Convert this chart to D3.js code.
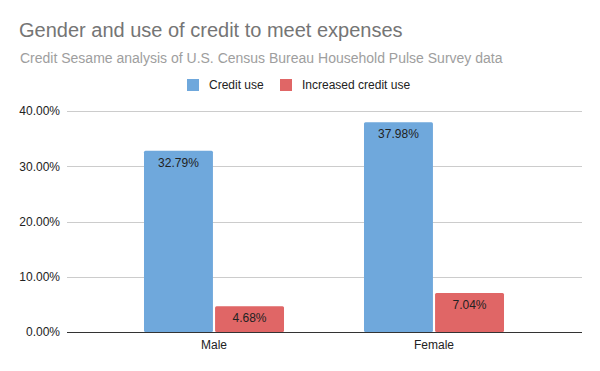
<!DOCTYPE html>
<html>
<head>
<meta charset="utf-8">
<script src="https://d3js.org/d3.v7.min.js"></script>
<style>
  body { margin: 0; background: #fff; }
  svg { font-family: Arial, "Liberation Sans", sans-serif; }
</style>
</head>
<body>
<div id="chart"></div>
<script>
const categories = ["Male", "Female"];
const seriesNames = ["Credit use", "Increased credit use"];
const creditUse = [0.3279, 0.3798];
const increasedCreditUse = [0.0468, 0.0704];
const yTicks = [0, 0.1, 0.2, 0.3, 0.4];
const colors = ["#6fa8dc", "#e06666"];

const width = 600, height = 371;

const svg = d3.select("#chart")
  .append("svg")
  .attr("width", width)
  .attr("height", height);

svg.append("rect").attr("width", width).attr("height", height).attr("fill", "#fff");

// title + subtitle
svg.append("text")
  .attr("x", 19).attr("y", 37)
  .attr("font-size", 20)
  .attr("fill", "#757575")
  .text("Gender and use of credit to meet expenses");

svg.append("text")
  .attr("x", 20).attr("y", 63)
  .attr("font-size", 14)
  .attr("fill", "#9e9e9e")
  .text("Credit Sesame analysis of U.S. Census Bureau Household Pulse Survey data");

// legend
const legendX = [187, 280];
seriesNames.forEach((name, i) => {
  svg.append("rect")
    .attr("x", legendX[i]).attr("y", 79)
    .attr("width", 12).attr("height", 12)
    .attr("fill", colors[i]);
  svg.append("text")
    .attr("x", legendX[i] + 22).attr("y", 89)
    .attr("font-size", 12)
    .attr("fill", "#222")
    .text(name);
});

const plotLeft = 67, plotRight = 582;

const y = d3.scaleLinear()
  .domain([0, 0.4])
  .range([332, 111]);

const x0 = d3.scaleBand()
  .domain(categories)
  .range([104, 544])
  .paddingInner(0.3636)
  .paddingOuter(0.1818);

const x1 = d3.scaleBand()
  .domain(seriesNames)
  .range([0, x0.bandwidth()])
  .paddingInner(0.03);

// gridlines
svg.append("g")
  .selectAll("line")
  .data(yTicks.slice(1))
  .enter().append("line")
  .attr("x1", plotLeft).attr("x2", plotRight)
  .attr("y1", d => Math.round(y(d)) + 0.5)
  .attr("y2", d => Math.round(y(d)) + 0.5)
  .attr("stroke", "#cccccc");

// y axis labels
const yAxis = svg.append("g")
  .attr("transform", "translate(" + (plotLeft - 7) + ",0)")
  .call(d3.axisLeft(y).tickValues(yTicks).tickFormat(d3.format(".2%")).tickSize(0).tickPadding(0));
yAxis.select(".domain").remove();
yAxis.selectAll("text")
  .attr("font-size", 12)
  .attr("font-family", "Arial, 'Liberation Sans', sans-serif")
  .attr("fill", "#222");

// bars
const rows = categories.map((c, i) => ({
  cat: c,
  vals: [creditUse[i], increasedCreditUse[i]]
}));

const groups = svg.append("g")
  .selectAll("g")
  .data(rows)
  .enter().append("g")
  .attr("transform", d => "translate(" + x0(d.cat) + ",0)");

const bars = groups.selectAll("g")
  .data(d => d.vals.map((v, i) => ({series: seriesNames[i], value: v, idx: i})))
  .enter().append("g");

bars.append("rect")
  .attr("x", d => x1(d.series))
  .attr("y", d => y(d.value))
  .attr("width", x1.bandwidth())
  .attr("height", d => y(0) - y(d.value))
  .attr("rx", 1.5)
  .attr("fill", d => colors[d.idx]);

bars.append("text")
  .attr("x", d => x1(d.series) + x1.bandwidth() / 2)
  .attr("y", d => y(d.value) + 16)
  .attr("text-anchor", "middle")
  .attr("font-size", 12)
  .attr("fill", "#222")
  .text(d => d3.format(".2%")(d.value));

// baseline
svg.append("line")
  .attr("x1", plotLeft).attr("x2", plotRight)
  .attr("y1", Math.round(y(0)) + 0.5).attr("y2", Math.round(y(0)) + 0.5)
  .attr("stroke", "#333");

// x axis labels
svg.append("g")
  .selectAll("text")
  .data(categories)
  .enter().append("text")
  .attr("x", d => x0(d) + x0.bandwidth() / 2)
  .attr("y", 349)
  .attr("text-anchor", "middle")
  .attr("font-size", 12)
  .attr("fill", "#222")
  .text(d => d);
</script>
</body>
</html>
